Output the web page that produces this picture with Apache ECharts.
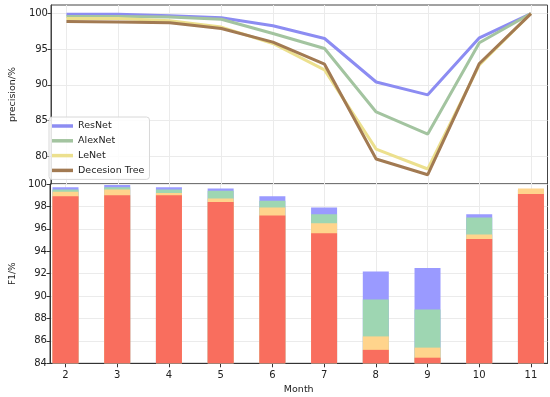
<!DOCTYPE html>
<html>
<head>
<meta charset="utf-8">
<script src="https://cdn.jsdelivr.net/npm/echarts@6/dist/echarts.min.js"></script>
<style>
html,body{margin:0;padding:0;background:#fff;}
#c{width:550px;height:397px;}
</style>
</head>
<body>
<div id="c"></div>
<script>
var months = [2, 3, 4, 5, 6, 7, 8, 9, 10, 11];
var seriesNames = ['ResNet', 'AlexNet', 'LeNet', 'Decesion Tree'];

// precision (%)
var precResNet  = [99.9, 99.9, 99.7, 99.4, 98.3, 96.5, 90.4, 88.6, 96.6, 100];
var precAlexNet = [99.6, 99.6, 99.5, 99.2, 97.2, 95.1, 86.2, 83.1, 95.9, 100];
var precLeNet   = [99.3, 99.3, 99.0, 98.1, 95.8, 92.1, 81.0, 78.2, 92.8, 100];
var precDT      = [98.9, 98.8, 98.7, 97.9, 96.0, 92.9, 79.6, 77.4, 93.0, 100];

// F1 (%)
var f1ResNet  = [99.7, 99.9, 99.7, 99.6, 98.9, 97.9, 92.2, 92.5, 97.3, 99.5];
var f1AlexNet = [99.5, 99.7, 99.5, 99.4, 98.5, 97.3, 89.7, 88.8, 97.0, 99.5];
var f1LeNet   = [99.3, 99.5, 99.2, 98.7, 97.9, 96.5, 86.4, 85.4, 95.5, 99.6];
var f1DT      = [98.9, 99.0, 99.0, 98.4, 97.2, 95.6, 85.2, 84.5, 95.1, 99.1];

var precTicks = [80, 85, 90, 95, 100];
var f1Ticks = [84, 86, 88, 90, 92, 94, 96, 98, 100];

var lineColors = ['#8c8cf2', '#a3c4a0', '#ece08e', '#a27a52'];
var barColors  = ['#9a9aff', '#9ed6b2', '#ffd48c', '#f96e5e'];

function pairs(arr) { return months.map(function (m, i) { return [m, arr[i]]; }); }

var FONT = 'DejaVu Sans';
var gridLine = { show: true, lineStyle: { color: '#ebebeb', width: 1 } };

var chart = echarts.init(document.getElementById('c'), null, { renderer: 'canvas' });

var precData = [precResNet, precAlexNet, precLeNet, precDT];
var f1Data = [f1ResNet, f1AlexNet, f1LeNet, f1DT];

var series = [];
precData.forEach(function (d, i) {
  series.push({
    name: seriesNames[i], type: 'line', xAxisIndex: 0, yAxisIndex: 0,
    data: pairs(d), symbol: 'none', smooth: false,
    lineStyle: { color: lineColors[i], width: 3 },
    itemStyle: { color: lineColors[i] }, z: 3
  });
});
f1Data.forEach(function (d, i) {
  series.push({
    name: seriesNames[i] + ' F1', type: 'bar', xAxisIndex: 1, yAxisIndex: 1,
    data: pairs(d), barWidth: 26, barGap: '-100%',
    itemStyle: { color: barColors[i] }, z: 2
  });
});

chart.setOption({
  animation: false,
  textStyle: { fontFamily: FONT },
  grid: [
    { left: 44, width: 503.5, top: 5, height: 179, show: true, borderColor: '#444', borderWidth: 1, backgroundColor: 'transparent' },
    { left: 44, width: 503.5, top: 184, height: 179.3, show: true, borderColor: '#444', borderWidth: 1, backgroundColor: 'transparent' }
  ],
  legend: {
    data: seriesNames, orient: 'vertical', left: 49, top: 117,
    icon: 'rect', itemWidth: 21, itemHeight: 3.5, itemGap: 2.8, itemTextGap: 8,
    padding: [3, 5, 3, 3],
    borderColor: '#d8d8d8', borderWidth: 1, borderRadius: 3,
    backgroundColor: 'rgba(255,255,255,0.85)',
    textStyle: { fontFamily: FONT, fontSize: 9.5, color: '#222', lineHeight: 12 }
  },
  xAxis: [
    { type: 'value', gridIndex: 0, min: 1.7, max: 11.32,
      axisLine: { show: false }, axisTick: { show: false, customValues: months },
      axisLabel: { show: false, customValues: months }, splitLine: gridLine },
    { type: 'value', gridIndex: 1, min: 1.7, max: 11.32,
      name: 'Month', nameLocation: 'middle', nameGap: 21,
      nameTextStyle: { fontFamily: FONT, fontSize: 9.5, color: '#222' },
      axisLine: { show: true, onZero: false, lineStyle: { color: '#333' } },
      axisTick: { show: true, length: 4, customValues: months, lineStyle: { color: '#333' } },
      axisLabel: { customValues: months, fontFamily: FONT, fontSize: 10, color: '#222', margin: 7 },
      splitLine: gridLine }
  ],
  yAxis: [
    { type: 'value', gridIndex: 0, min: 76.1, max: 101.2,
      name: 'precision/%', nameLocation: 'middle', nameGap: 27, nameRotate: 90,
      nameTextStyle: { fontFamily: FONT, fontSize: 9.5, color: '#222' },
      axisLine: { show: true, lineStyle: { color: '#444' } },
      axisTick: { show: true, length: 3.5, customValues: precTicks, lineStyle: { color: '#444' } },
      axisLabel: { customValues: precTicks, fontFamily: FONT, fontSize: 10, color: '#222', margin: 3 },
      splitLine: gridLine },
    { type: 'value', gridIndex: 1, min: 84, max: 100,
      name: 'F1/%', nameLocation: 'middle', nameGap: 27, nameRotate: 90,
      nameTextStyle: { fontFamily: FONT, fontSize: 9, color: '#222' },
      axisLine: { show: true, lineStyle: { color: '#333' } },
      axisTick: { show: true, length: 3.5, customValues: f1Ticks, lineStyle: { color: '#333' } },
      axisLabel: { customValues: f1Ticks, fontFamily: FONT, fontSize: 10, color: '#222', margin: 3 },
      splitLine: gridLine }
  ],
  series: series
});
</script>
</body>
</html>
